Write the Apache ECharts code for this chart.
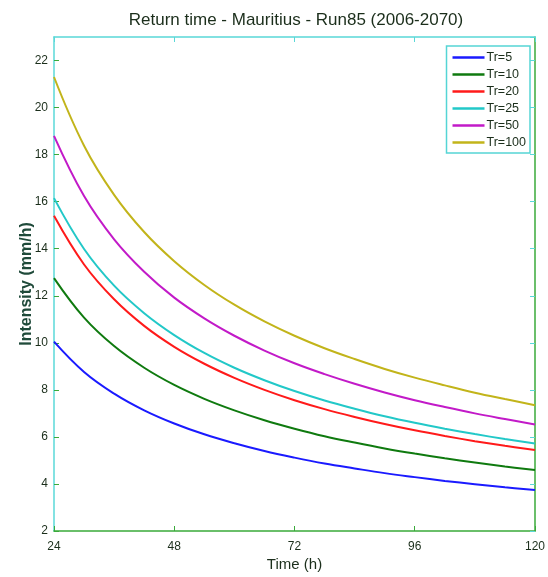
<!DOCTYPE html>
<html>
<head>
<meta charset="utf-8">
<script src="https://cdn.jsdelivr.net/npm/echarts@6/dist/echarts.min.js"></script>
<style>html,body{margin:0;padding:0;background:#fff}#c{width:548px;height:577px}</style>
</head>
<body>
<div id="c"></div>
<script>
var hours = [24, 30, 36, 42, 48, 54, 60, 66, 72, 78, 84, 90, 96, 102, 108, 114, 120];
var seriesNames = ['Tr=5', 'Tr=10', 'Tr=20', 'Tr=25', 'Tr=50', 'Tr=100'];
var tr5   = [10.05, 8.76, 7.84, 7.13, 6.57, 6.11, 5.73, 5.40, 5.12, 4.87, 4.66, 4.46, 4.29, 4.13, 3.99, 3.86, 3.74];
var tr10  = [12.75, 11.07, 9.86, 8.94, 8.21, 7.62, 7.13, 6.71, 6.35, 6.03, 5.76, 5.51, 5.29, 5.09, 4.91, 4.74, 4.59];
var tr20  = [15.40, 13.33, 11.85, 10.72, 9.83, 9.11, 8.51, 8.00, 7.56, 7.18, 6.85, 6.55, 6.28, 6.04, 5.82, 5.62, 5.44];
var tr25  = [16.15, 13.99, 12.43, 11.26, 10.33, 9.57, 8.94, 8.41, 7.95, 7.55, 7.20, 6.88, 6.60, 6.35, 6.12, 5.91, 5.72];
var tr50  = [18.80, 16.24, 14.40, 13.02, 11.92, 11.04, 10.30, 9.67, 9.13, 8.67, 8.26, 7.89, 7.56, 7.27, 7.00, 6.76, 6.53];
var tr100 = [21.30, 18.38, 16.29, 14.71, 13.47, 12.46, 11.62, 10.91, 10.30, 9.77, 9.31, 8.89, 8.52, 8.19, 7.88, 7.61, 7.35];
var xTicks = [24, 48, 72, 96, 120];
var yTicks = [2, 4, 6, 8, 10, 12, 14, 16, 18, 20, 22];

var colors = ['#1a1aff', '#0f7a0f', '#ff1a1a', '#22c8c8', '#c21ac8', '#c2b41a'];
var allData = [tr5, tr10, tr20, tr25, tr50, tr100];
var txt = '#1b2e1b';
var font = '"Liberation Sans", Arial, sans-serif';

var series = allData.map(function (vals, i) {
  return {
    name: seriesNames[i], type: 'line', smooth: 0.4, showSymbol: false,
    xAxisIndex: 0, yAxisIndex: 0,
    lineStyle: { color: colors[i], width: 2 }, itemStyle: { color: colors[i] },
    data: hours.map(function (h, j) { return [h, vals[j]]; })
  };
});

var chart = echarts.init(document.getElementById('c'), null, { renderer: 'canvas' });
chart.setOption({
  animation: false,
  backgroundColor: '#fff',
  title: {
    text: 'Return time - Mauritius - Run85 (2006-2070)',
    left: 291, top: 7, textAlign: 'center',
    textStyle: { fontFamily: font, fontSize: 17, fontWeight: 'normal', color: txt }
  },
  legend: {
    orient: 'vertical', right: 18, top: 46,
    backgroundColor: '#fff', borderColor: '#55d5d5', borderWidth: 1.5,
    padding: [5, 4, 4, 6], itemGap: 4, itemWidth: 32, itemHeight: 13,
    icon: 'path://M0,5.8 L32,5.8 L32,8.2 L0,8.2 Z',
    textStyle: { fontFamily: font, fontSize: 12.5, color: txt, padding: [0, 0, 0, -3] },
    data: seriesNames
  },
  grid: { left: 54, right: 13, top: 37, bottom: 45, containLabel: false },
  xAxis: [{
    type: 'value', min: 24, max: 120, interval: 24, position: 'bottom',
    name: 'Time (h)', nameLocation: 'middle', nameGap: 26, nameMoveOverlap: false,
    nameTextStyle: { fontFamily: font, fontSize: 15, color: txt },
    axisLine: { lineStyle: { color: '#3aaa3a', width: 1.5 } },
    axisTick: { inside: true, length: 5, lineStyle: { color: '#3aaa3a' } },
    axisLabel: { fontFamily: font, fontSize: 12, color: txt, margin: 10 },
    splitLine: { show: false }
  }, {
    type: 'value', min: 24, max: 120, interval: 24, position: 'top',
    axisLine: { lineStyle: { color: '#5ad8d8', width: 1.5 } },
    axisTick: { inside: true, length: 5, lineStyle: { color: '#5ad8d8' } },
    axisLabel: { show: false }, splitLine: { show: false }
  }],
  yAxis: [{
    type: 'value', min: 2, max: 23, interval: 2, position: 'left',
    name: 'Intensity (mm/h)', nameLocation: 'middle', nameGap: 19, nameRotate: 90, nameMoveOverlap: false,
    nameTextStyle: { fontFamily: font, fontSize: 16, fontWeight: 'bold', color: '#1f4a3a' },
    axisLine: { lineStyle: { color: '#5ad8d8', width: 1.5 } },
    axisTick: { inside: true, length: 5, lineStyle: { color: '#3aaa3a' } },
    axisLabel: { fontFamily: font, fontSize: 12, color: txt, margin: 6, showMaxLabel: false },
    splitLine: { show: false }
  }, {
    type: 'value', min: 2, max: 23, interval: 2, position: 'right',
    axisLine: { lineStyle: { color: '#3aaa3a', width: 1.5 } },
    axisTick: { inside: true, length: 5, lineStyle: { color: '#5ad8d8' } },
    axisLabel: { show: false }, splitLine: { show: false }
  }],
  series: series
});
</script>
</body>
</html>
